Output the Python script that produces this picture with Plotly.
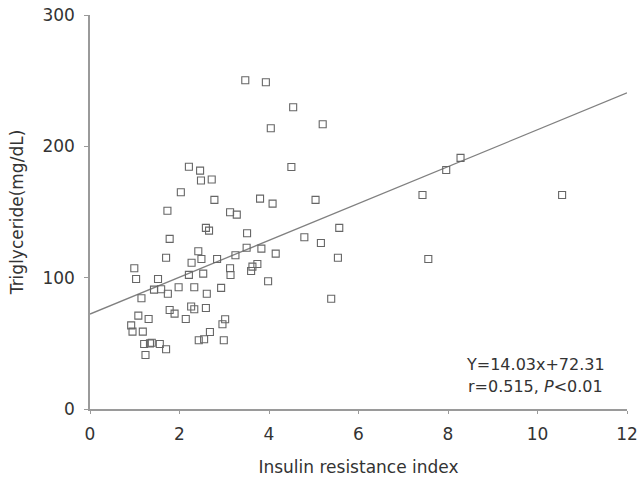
import plotly.graph_objects as go

# Data
insulin_resistance = [
    2.21, 2.46, 2.48, 2.72, 2.03, 2.78, 1.73, 3.13, 3.28, 2.59,
    2.66, 1.78, 2.42, 1.70, 2.27, 2.49, 2.84, 3.25, 0.99, 1.03,
    1.52, 3.13, 3.14, 2.21, 2.53, 1.43, 1.59, 1.74, 1.98, 2.33,
    2.93, 2.61, 1.15, 1.78, 1.89, 2.26, 2.33, 2.59, 1.08, 1.31,
    0.92, 0.95, 1.18, 2.14, 3.02, 2.96, 2.68, 2.43, 2.55, 2.99,
    1.21, 1.34, 1.38, 1.56, 1.70, 1.24, 3.80, 4.08, 5.04, 3.51,
    5.57, 4.79, 5.16, 3.50, 3.83, 4.15, 5.54, 3.63, 3.74, 3.60,
    3.98, 5.39, 3.47, 3.93, 4.54, 4.04, 5.20, 4.50, 7.43, 7.56,
    7.96, 8.28, 10.55,
]
triglyceride = [
    184.5, 181.5, 174.0, 174.8, 165.0, 159.2, 151.0, 149.8, 148.0, 137.9,
    135.8, 129.5, 120.1, 115.2, 111.4, 114.2, 114.2, 117.1, 107.2, 99.0,
    99.0, 107.2, 102.0, 102.1, 103.1, 90.9, 91.2, 87.8, 92.7, 92.7,
    92.2, 87.8, 84.3, 75.4, 72.6, 78.1, 75.9, 76.9, 71.1, 68.5,
    63.7, 58.9, 58.9, 68.5, 68.3, 64.5, 58.6, 52.3, 53.1, 52.3,
    49.5, 50.0, 50.5, 49.5, 45.5, 41.1, 160.2, 156.4, 159.2, 133.8,
    137.9, 130.8, 126.4, 122.8, 122.1, 118.3, 115.2, 108.4, 110.4, 105.1,
    97.3, 84.0, 250.3, 248.8, 229.8, 213.8, 216.8, 184.3, 163.0, 114.2,
    182.0, 191.2, 163.0,
]

slope = 14.03
intercept = 72.31
r_value = 0.515
fit_x = [0, 12]
fit_y = [slope * x + intercept for x in fit_x]

x_ticks = [0, 2, 4, 6, 8, 10, 12]
y_ticks = [0, 100, 200, 300]

FONT = "DejaVu Sans"
TEXT = "#333333"
AXIS = "#9a9a9a"

fig = go.Figure()
fig.add_trace(go.Scatter(
    x=fit_x, y=fit_y, mode="lines",
    line=dict(color="#808080", width=1.3),
    hoverinfo="skip", showlegend=False,
))
fig.add_trace(go.Scatter(
    x=insulin_resistance, y=triglyceride, mode="markers",
    marker=dict(symbol="square-open", size=7, color="#666666",
                line=dict(width=1.1, color="#666666")),
    showlegend=False,
))

fig.update_layout(
    width=642, height=481,
    margin=dict(l=90, r=15, t=15, b=72),
    paper_bgcolor="white", plot_bgcolor="white",
    font=dict(family=FONT, size=17, color=TEXT),
    xaxis=dict(
        range=[0, 12], tickvals=x_ticks, ticktext=[str(v) for v in x_ticks],
        showline=True, linecolor=AXIS, linewidth=1.5,
        ticks="outside", ticklen=3, tickcolor=AXIS, tickwidth=1,
        ticklabelstandoff=6, automargin=False,
        showgrid=False, zeroline=False,
        tickfont=dict(family=FONT, size=17, color=TEXT),
        title=dict(text="Insulin resistance index", standoff=18,
                   font=dict(family=FONT, size=17, color=TEXT)),
    ),
    yaxis=dict(
        range=[0, 300], tickvals=y_ticks, ticktext=[str(v) for v in y_ticks],
        showline=True, linecolor=AXIS, linewidth=1.5,
        ticks="outside", ticklen=4, tickcolor=AXIS, tickwidth=1,
        ticklabelstandoff=6, automargin=False,
        showgrid=False, zeroline=False,
        tickfont=dict(family=FONT, size=17, color=TEXT),
        title=dict(text="Triglyceride(mg/dL)", standoff=14,
                   font=dict(family=FONT, size=17, color=TEXT)),
    ),
    annotations=[
        dict(text=f"Y={slope:.2f}x+{intercept:.2f}", xref="paper", yref="paper",
             x=0.83, y=0.112, xanchor="center", yanchor="middle",
             showarrow=False, font=dict(family=FONT, size=16, color=TEXT)),
        dict(text=f"r={r_value:.3f}, <i>P</i>&lt;0.01", xref="paper", yref="paper",
             x=0.83, y=0.058, xanchor="center", yanchor="middle",
             showarrow=False, font=dict(family=FONT, size=16, color=TEXT)),
    ],
)

fig.write_html("out.html")
